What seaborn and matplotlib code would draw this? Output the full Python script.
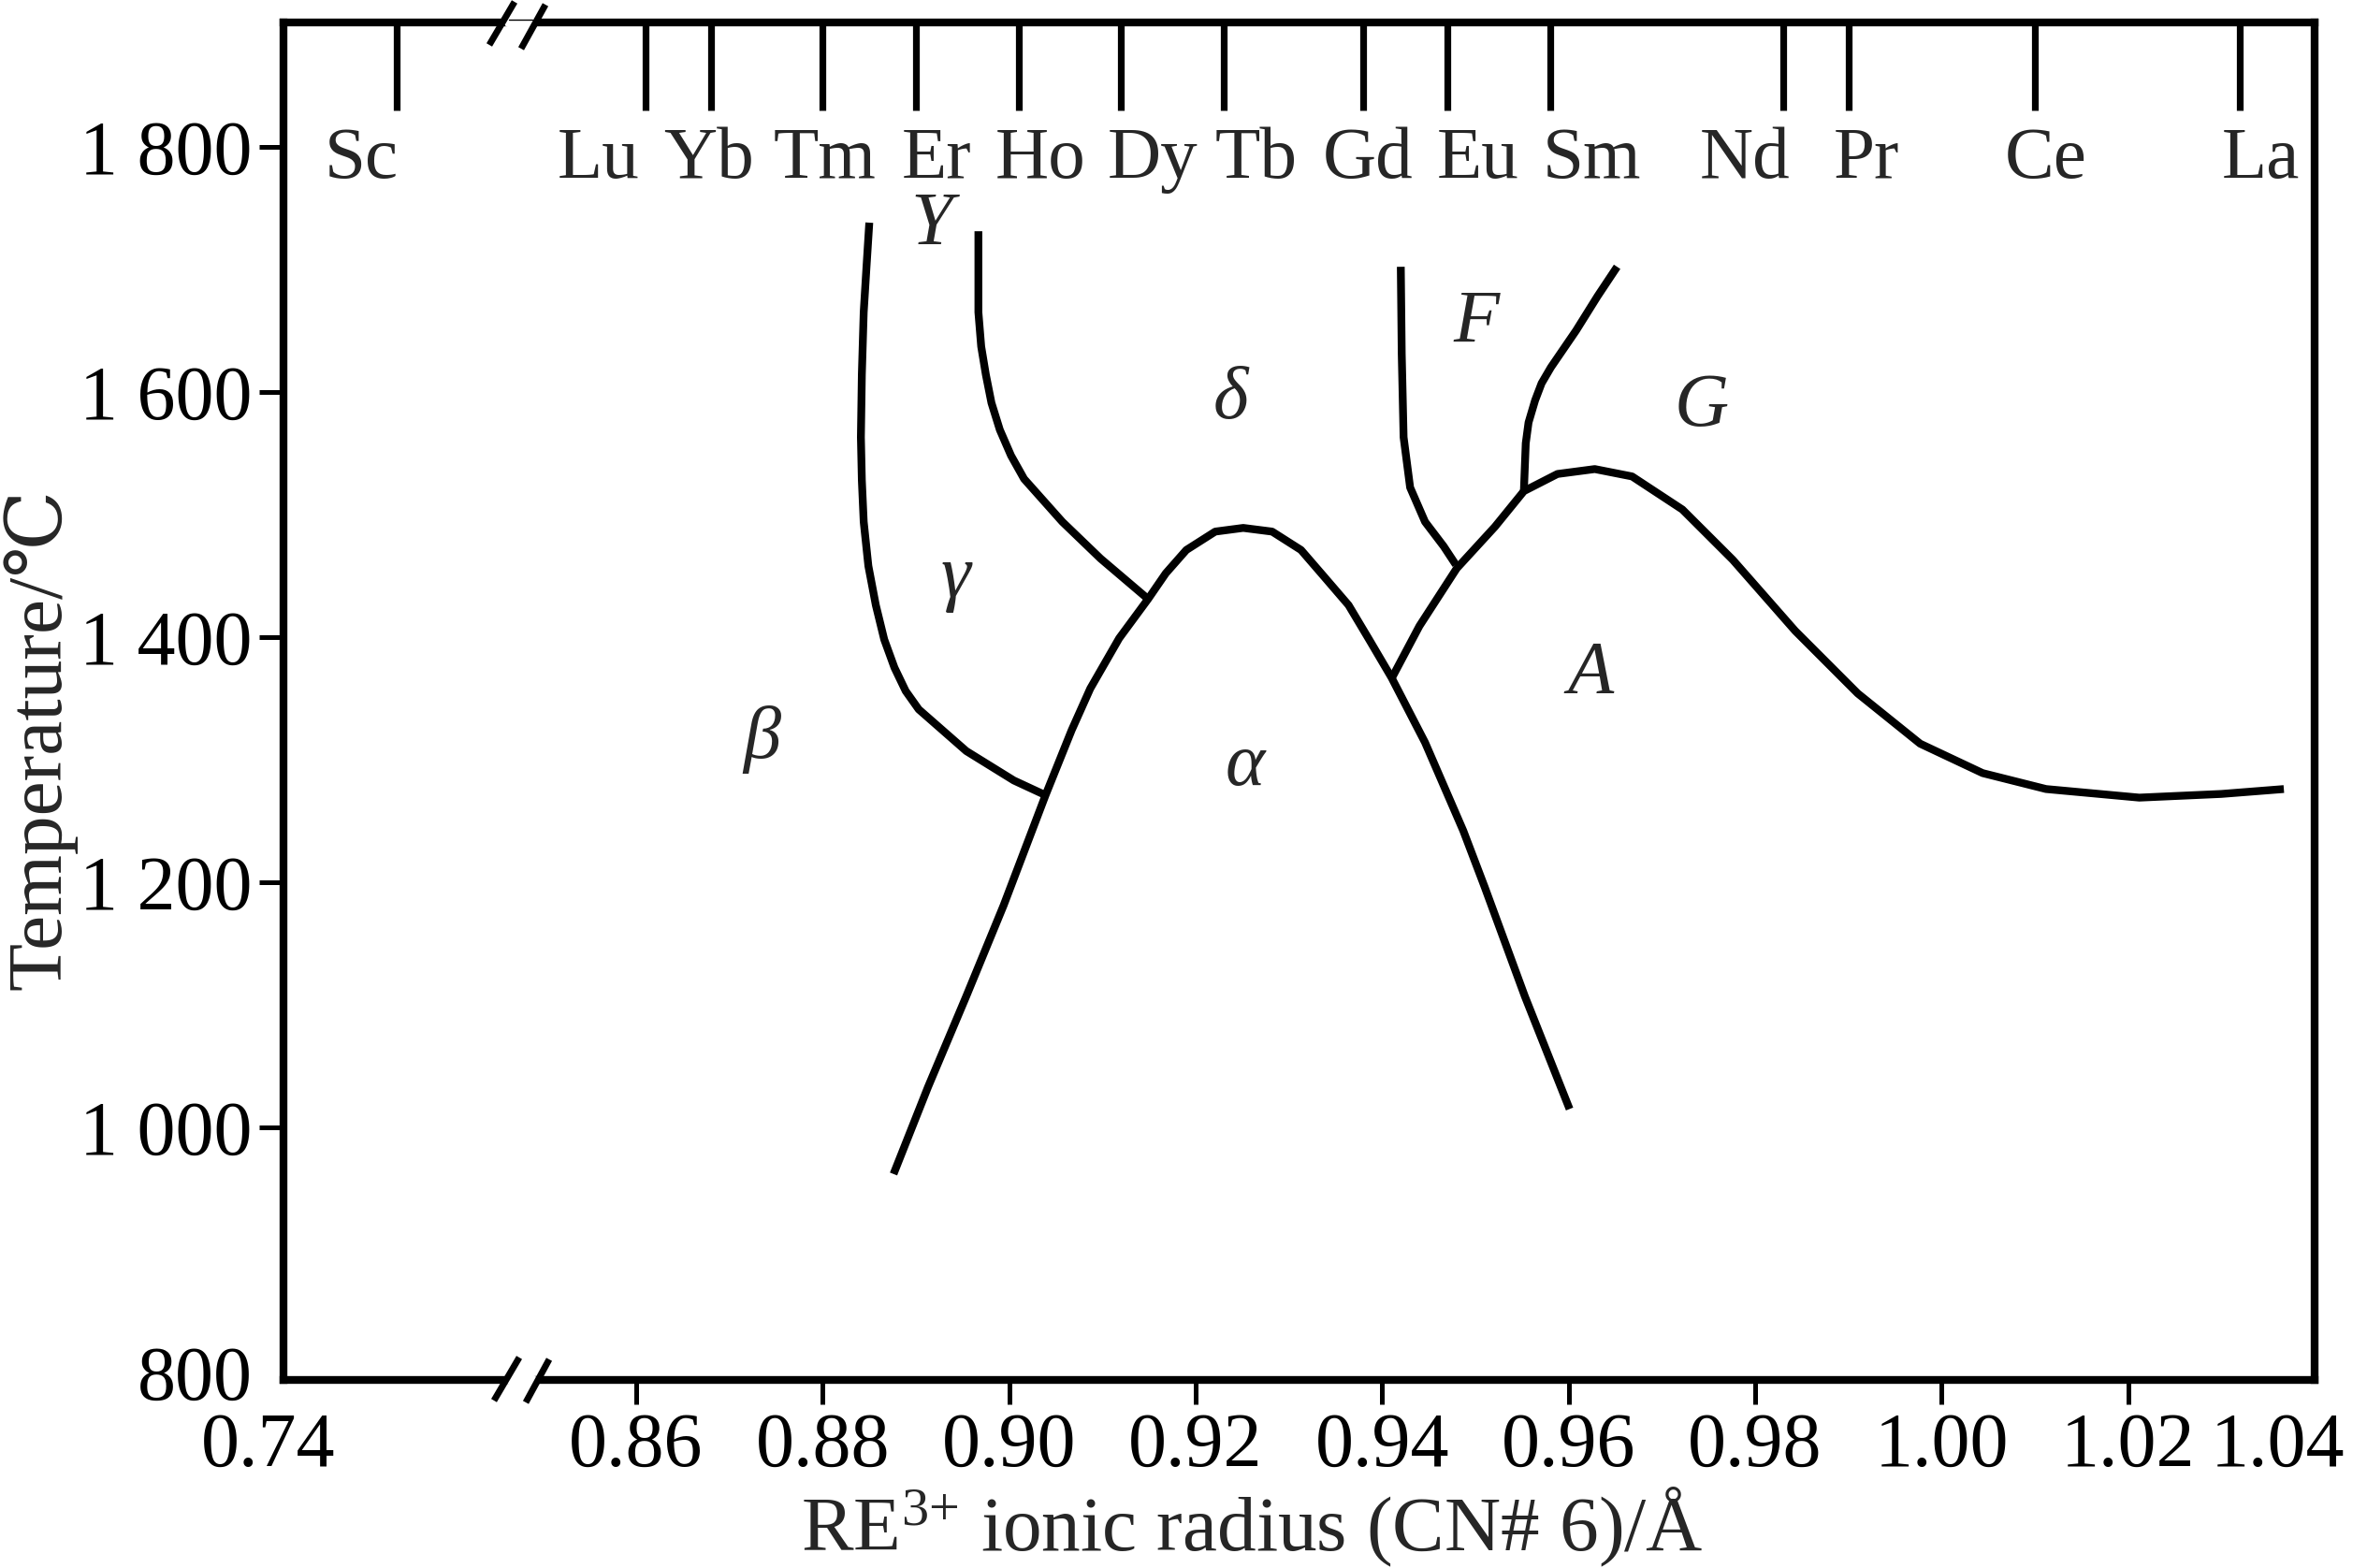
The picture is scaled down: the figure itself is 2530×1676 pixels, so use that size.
"""
RE2O3 polymorph phase diagram vs. RE3+ ionic radius (broken x axis).
Output: out.png
"""

import numpy as np
import pandas as pd
import matplotlib
matplotlib.use("Agg")
import matplotlib.pyplot as plt
from matplotlib.lines import Line2D
from matplotlib.transforms import ScaledTranslation
import seaborn as sns


W, H, DPI = 2530, 1676, 100

# RE3+ ionic radii (CN 6), Angstrom
elements = ["Sc", "Lu", "Yb", "Tm", "Er", "Ho", "Dy", "Tb", "Gd", "Eu", "Sm", "Nd", "Pr", "Ce", "La"]
elem_radius = [0.745, 0.861, 0.868, 0.880, 0.890, 0.901, 0.912, 0.923,
               0.938, 0.947, 0.958, 0.983, 0.990, 1.010, 1.032]
# labels are not exactly centred on their marks in the original (px)
elem_nudge = [-38, -50, -2, 2, 22, 23, 34, 35, 5, 33, 45, -41, 19, 12, 22]

x_ticks = [0.74, 0.86, 0.88, 0.90, 0.92, 0.94, 0.96, 0.98, 1.00, 1.02, 1.04]
x_ticklabels = ["0.74", "0.86", "0.88", "0.90", "0.92", "0.94", "0.96", "0.98", "1.00", "1.02", "1.04"]
y_ticks = [800, 1000, 1200, 1400, 1600, 1800]
y_ticklabels = ["800", "1 000", "1 200", "1 400", "1 600", "1 800"]

# phase boundaries: radius (Å), temperature (°C)
beta_gamma_r = [0.8850, 0.8847, 0.8844, 0.8842, 0.8841, 0.8842, 0.8844, 0.8849, 0.8857,
                0.8866, 0.8877, 0.8889, 0.8903, 0.8954, 0.9005, 0.9039]
beta_gamma_t = [1738, 1702, 1665, 1614, 1563, 1528, 1494, 1458, 1426,
                1398, 1375, 1356, 1341, 1307, 1283, 1271]

gamma_delta_r = [0.8967, 0.8967, 0.8970, 0.8975, 0.8981, 0.8990, 0.9002, 0.9016,
                 0.9057, 0.9098, 0.9149]
gamma_delta_t = [1731, 1665, 1637, 1614, 1591, 1569, 1548, 1529, 1494, 1464, 1431]

alpha_r = [0.8876, 0.8913, 0.8954, 0.8994, 0.9020, 0.9039, 0.9067, 0.9087, 0.9118,
           0.9149, 0.9168, 0.9190, 0.9221, 0.9251, 0.9282, 0.9313, 0.9338, 0.9364,
           0.9386, 0.9410, 0.9446, 0.9487, 0.9510, 0.9553, 0.9601]
alpha_t = [962, 1033, 1107, 1181, 1233, 1271, 1324, 1358, 1399,
           1431, 1452, 1471, 1486, 1489, 1486, 1471, 1449, 1426,
           1398, 1367, 1314, 1242, 1196, 1107, 1015]

f_r = [0.9420, 0.9421, 0.9423, 0.9430, 0.9446, 0.9466, 0.9479]
f_t = [1702, 1631, 1563, 1522, 1494, 1474, 1459]

a_r = [0.9410, 0.9440, 0.9480, 0.9521, 0.9552, 0.9588, 0.9628, 0.9668, 0.9722,
       0.9776, 0.9843, 0.9910, 0.9977, 1.0044, 1.0112, 1.0212, 1.0300, 1.0367]
a_t = [1366, 1409, 1456, 1490, 1519, 1533, 1537, 1531, 1504,
       1463, 1405, 1354, 1313, 1289, 1276, 1269, 1272, 1276]

g_r = [0.9552, 0.9554, 0.9557, 0.9564, 0.9571, 0.9581, 0.9608, 0.9631, 0.9652]
g_t = [1519, 1558, 1575, 1593, 1607, 1620, 1650, 1678, 1702]

phase_names = ["Y", "β", "γ", "δ", "α", "F", "G", "A"]
phase_r = [0.8917, 0.8735, 0.8943, 0.9237, 0.9253, 0.9501, 0.9742, 0.9623]
phase_t = [1735, 1316, 1448, 1593, 1294, 1655, 1587, 1369]


def boundaries_frame() -> pd.DataFrame:
    """Stack all boundary lines into one long table."""
    parts = []
    for name, r, t in [("beta_gamma", beta_gamma_r, beta_gamma_t),
                       ("gamma_delta", gamma_delta_r, gamma_delta_t),
                       ("alpha", alpha_r, alpha_t),
                       ("F", f_r, f_t),
                       ("A", a_r, a_t),
                       ("G", g_r, g_t)]:
        parts.append(pd.DataFrame({"boundary": name, "radius": r, "temperature": t}))
    return pd.concat(parts, ignore_index=True)


# broken axis: 0.74..0.86 squeezed, 0.86..1.04 linear
BRK_R = np.array([0.60, 0.74, 0.745, 0.86, 1.20])
BRK_U = np.array([-140.0, 0.0, 121.0, 377.0, 377.0 + 0.34 * 9967.0])


def fwd(x):
    return np.interp(x, BRK_R, BRK_U)


def inv(u):
    return np.interp(u, BRK_U, BRK_R)


def fpx(x, y):
    """Pixel position in the 2530x1676 canvas -> figure fraction."""
    return x / W, 1 - y / H


sns.set_theme(style="ticks")
plt.rcParams["font.family"] = ["Liberation Serif", "DejaVu Serif"]
plt.rcParams["mathtext.fontset"] = "custom"
plt.rcParams["mathtext.rm"] = "Liberation Serif"
plt.rcParams["mathtext.default"] = "regular"

fig = plt.figure(figsize=(W / DPI, H / DPI), dpi=DPI, facecolor="white")
ax = fig.add_axes([303 / W, 1 - 1475 / H, 2171 / W, 1451 / H])
ax.set_xscale("function", functions=(fwd, inv))

df = boundaries_frame()
sns.lineplot(data=df, x="radius", y="temperature", units="boundary", estimator=None,
             sort=False, color="black", linewidth=6, legend=False, ax=ax,
             solid_joinstyle="round", solid_capstyle="butt")

ax.set_xlim(0.74, 1.04)
ax.set_ylim(794, 1901.3)

# element marks hanging from the top spine
xt = ax.get_xaxis_transform()
ax.vlines(elem_radius, 0.935, 1.0, transform=xt, colors="black", linewidth=5.2)
for name, r, dx in zip(elements, elem_radius, elem_nudge):
    ax.annotate(name, xy=(r, 0.8856), xycoords=xt, xytext=(dx * 0.72, 0),
                textcoords="offset points", ha="center", va="baseline", fontsize=57)

for name, r, t in zip(phase_names, phase_r, phase_t):
    ax.text(r, t, name, ha="center", va="center", fontsize=58, fontstyle="italic")

ax.set_xticks(x_ticks, x_ticklabels)
ax.set_yticks(y_ticks, y_ticklabels)
ax.tick_params(axis="both", direction="out", length=19, width=3.6, color="black",
               labelsize=59, labelcolor="black")
ax.tick_params(axis="x", pad=6)
ax.tick_params(axis="y", pad=5)
for tk in (ax.xaxis.get_major_ticks()[0], ax.xaxis.get_major_ticks()[-1],
           ax.yaxis.get_major_ticks()[0]):
    tk.tick1line.set_visible(False)

# end labels sit a little to the left of their positions in the original
xlabels = ax.get_xticklabels()
for lbl, dx in [(xlabels[0], -16), (xlabels[-1], -40)]:
    lbl.set_transform(lbl.get_transform() + ScaledTranslation(dx / DPI, 0, fig.dpi_scale_trans))

for sp in ax.spines.values():
    sp.set_visible(True)
    sp.set_linewidth(6)
    sp.set_color("black")

ax.set_xlabel(r"RE$^{3{+}}$ ionic radius (CN# 6)/Å", fontsize=60, va="baseline")
ax.xaxis.set_label_coords(0.4767, -0.1254)
ax.set_ylabel("Temperature/℃", fontsize=60, va="center")
ax.yaxis.set_label_coords(-0.1200, 0.472)

# axis break marks "//" on both horizontal spines
for (xa, ya), (xb, yb) in [((546, 1475), (569, 1475)), ((544, 24), (569, 24))]:
    fig.add_artist(Line2D(*zip(fpx(xa, ya), fpx(xb, yb)), color="white", linewidth=7.5,
                          transform=fig.transFigure))
fig.add_artist(Line2D(*zip(fpx(544, 21), fpx(569, 21)), color="black", linewidth=1.0,
                      transform=fig.transFigure))
for p, q in [((528, 1497), (555, 1451)), ((562, 1499), (587, 1453)),
             ((523, 48), (550, 2)), ((557, 52), (583, 5))]:
    fig.add_artist(Line2D(*zip(fpx(*p), fpx(*q)), color="black", linewidth=5,
                          solid_capstyle="butt", transform=fig.transFigure))

fig.savefig("out.png", dpi=DPI, facecolor="white")
plt.close(fig)
